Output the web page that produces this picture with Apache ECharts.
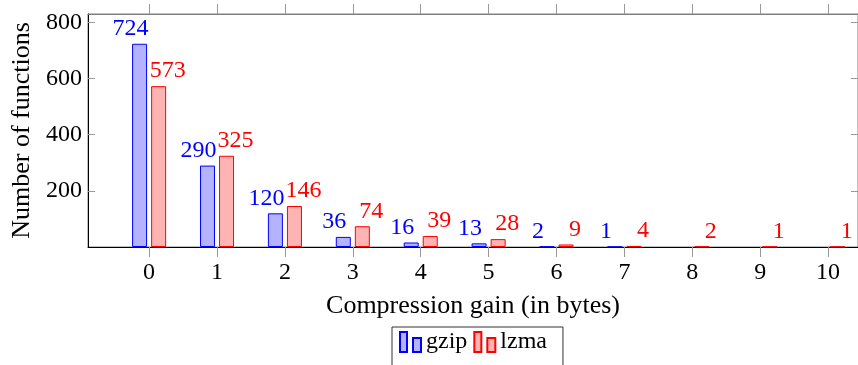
<!DOCTYPE html>
<html>
<head>
<meta charset="utf-8">
<script src="https://cdn.jsdelivr.net/npm/echarts/dist/echarts.min.js"></script>
<style>
  html, body { margin: 0; padding: 0; background: #fff; }
  #main { width: 858px; height: 365px; }
</style>
</head>
<body>
<div id="main"></div>
<script>
// data
var gains = [0, 1, 2, 3, 4, 5, 6, 7, 8, 9, 10];
var gzipCounts = [724, 290, 120, 36, 16, 13, 2, 1, null, null, null];
var lzmaCounts = [573, 325, 146, 74, 39, 28, 9, 4, 2, 1, 1];
var yTicks = [200, 400, 600, 800];

var FONT = 'Liberation Serif';

function pairs(vals) {
  var out = [];
  for (var i = 0; i < gains.length; i++) {
    if (vals[i] != null) out.push([gains[i], vals[i]]);
  }
  return out;
}

var chart = echarts.init(document.getElementById('main'));

// two small bars, like the pgfplots ybar legend image
var barIcon = 'path://M0,0 h7 v20 h-7 Z M13,6 h8 v14 h-8 Z';

var option = {
  animation: false,
  textStyle: { fontFamily: FONT },
  grid: {
    left: 88, right: -4, top: 14, bottom: 118,
    show: true, borderColor: '#808080', borderWidth: 1
  },
  legend: {
    left: 392, top: 327,
    padding: [3, 16, 30, 7],
    itemGap: 6,
    itemWidth: 21, itemHeight: 20,
    borderColor: '#333', borderWidth: 1,
    textStyle: { fontFamily: FONT, fontSize: 24, color: '#000' },
    data: [
      { name: 'gzip', icon: barIcon },
      { name: 'lzma', icon: barIcon }
    ]
  },
  xAxis: [{
    type: 'value',
    min: -0.9, max: 10.44,
    name: 'Compression gain (in bytes)',
    nameLocation: 'middle',
    nameGap: 46,
    nameTextStyle: { fontFamily: FONT, fontSize: 26, color: '#000' },
    splitLine: { show: false },
    axisLine: { show: true, onZero: false, lineStyle: { color: '#000', width: 1 } },
    axisTick: { show: true, inside: false, length: 10, customValues: gains, lineStyle: { color: '#999' } },
    axisLabel: { customValues: gains, margin: 14, fontFamily: FONT, fontSize: 24, color: '#000' }
  }, {
    type: 'value',
    position: 'top',
    min: -0.9, max: 10.44,
    splitLine: { show: false },
    axisLine: { show: true, onZero: false, lineStyle: { color: '#808080', width: 1 } },
    axisTick: { show: true, inside: false, length: 10, customValues: gains, lineStyle: { color: '#999' } },
    axisLabel: { show: false }
  }],
  yAxis: [{
    type: 'value',
    min: 0, max: 830,
    name: 'Number of functions',
    nameLocation: 'middle',
    nameGap: 52,
    nameTextStyle: { fontFamily: FONT, fontSize: 26, color: '#000' },
    splitLine: { show: false },
    axisLine: { show: true, onZero: false, lineStyle: { color: '#000', width: 1 } },
    axisTick: { show: true, inside: true, length: 7, customValues: yTicks, lineStyle: { color: '#999' } },
    axisLabel: { customValues: yTicks, margin: 6, fontFamily: FONT, fontSize: 24, color: '#000' }
  }, {
    type: 'value',
    position: 'right',
    min: 0, max: 830,
    splitLine: { show: false },
    axisLine: { show: true, onZero: false, lineStyle: { color: '#808080', width: 1 } },
    axisTick: { show: true, inside: true, length: 7, customValues: yTicks, lineStyle: { color: '#999' } },
    axisLabel: { show: false }
  }],
  series: [{
    name: 'gzip',
    type: 'bar',
    data: pairs(gzipCounts),
    barWidth: 15,
    barGap: '27%',
    itemStyle: { color: '#b3b3ff', borderColor: '#0000ff', borderWidth: 1 },
    label: {
      show: true, position: 'top', distance: 3, offset: [-9, 0],
      color: '#0000ff', fontFamily: FONT, fontSize: 24,
      formatter: function (p) { return p.value[1]; }
    }
  }, {
    name: 'lzma',
    type: 'bar',
    data: pairs(lzmaCounts),
    barWidth: 15,
    barGap: '27%',
    itemStyle: { color: '#ffb3b3', borderColor: '#ff0000', borderWidth: 1 },
    label: {
      show: true, position: 'top', distance: 3, offset: [9, 0],
      color: '#ff0000', fontFamily: FONT, fontSize: 24,
      formatter: function (p) { return p.value[1]; }
    }
  }]
};

chart.setOption(option);
</script>
</body>
</html>
